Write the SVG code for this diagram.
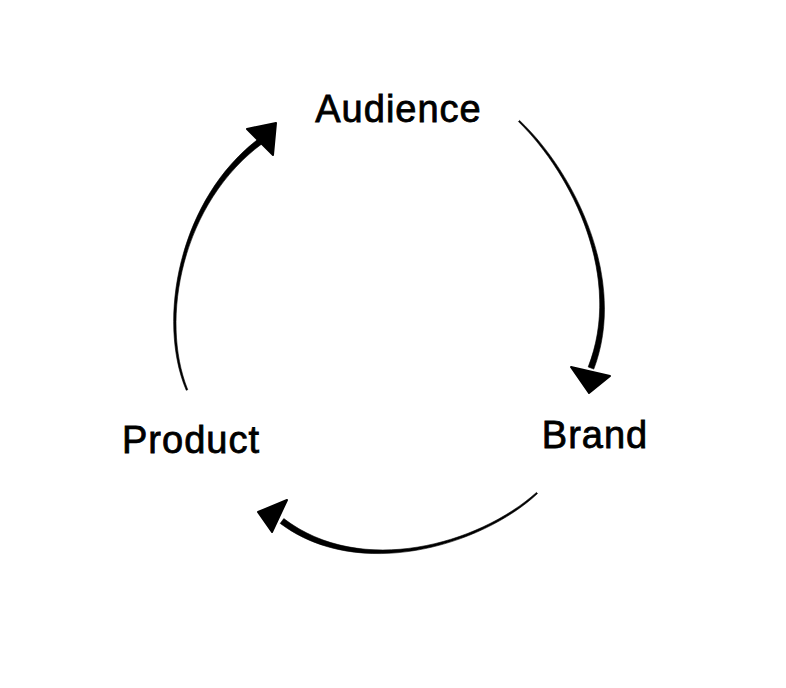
<svg xmlns="http://www.w3.org/2000/svg" width="786" height="688" viewBox="0 0 786 688">
<style>
.lbl{font-family:"Liberation Sans",Arial,sans-serif;font-size:38px;fill:#000;stroke:#000;stroke-width:0.8;letter-spacing:1px;text-anchor:middle}
.arr{fill:#000;stroke:#000;stroke-width:0.6;stroke-linejoin:round}
.head{fill:#000;stroke:#000;stroke-width:2;stroke-linejoin:round}
</style>
<rect width="786" height="688" fill="#fff"/>
<g id="connectors">
<g id="audience-to-brand">
<path class="arr" d="M519.55,120.42 C576,173.9 627.3,280.9 593.8,369.1 L588.2,366.9 C622.7,279.1 574,176.1 518.45,121.58 Z"/>
<polygon class="head" points="571,367 610,376 589,393"/>
</g>
<g id="brand-to-product">
<path class="arr" d="M537.5,493.6 C481,546.1 358.5,582 280.2,523.4 L283.8,518.6 C361.5,578 479,543.9 536.5,492.4 Z"/>
<polygon class="head" points="258,512 287,500 272,532"/>
</g>
<g id="product-to-audience">
<path class="arr" d="M186.26,390.3 C156.6,320.6 178.5,198 260.2,137.6 L263.8,142.4 C181.5,202 159.4,319.4 187.74,389.7 Z"/>
<polygon class="head" points="276,123 247,129 273,155"/>
</g>
</g>
<g id="audience"><text class="lbl" x="398.5" y="122">Audience</text></g>
<g id="brand"><text class="lbl" x="595" y="448">Brand</text></g>
<g id="product"><text class="lbl" x="191" y="453">Product</text></g>
</svg>
